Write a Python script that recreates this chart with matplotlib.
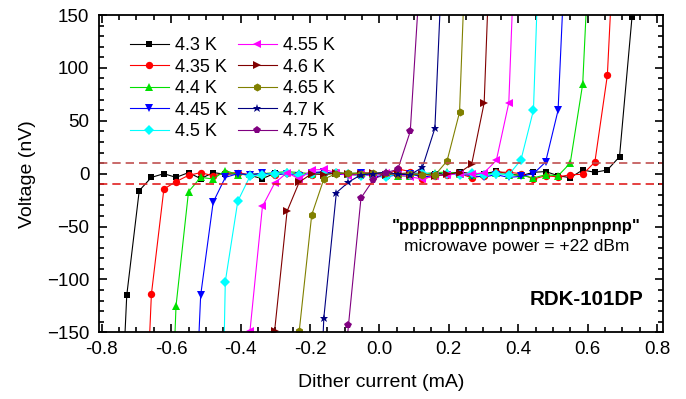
import numpy as np
import matplotlib
matplotlib.use('Agg')
import matplotlib.pyplot as plt
from matplotlib.ticker import MultipleLocator

plt.rcParams['font.family'] = ['Liberation Sans', 'DejaVu Sans']

# dither current grid (mA), shared by all temperature sweeps
current = [-0.799, -0.763, -0.728, -0.692, -0.657, -0.621, -0.586, -0.550, -0.515, -0.479,
           -0.444, -0.408, -0.373, -0.337, -0.302, -0.266, -0.231, -0.195, -0.160, -0.124,
           -0.089, -0.053, -0.018, 0.018, 0.053, 0.089, 0.124, 0.160, 0.195, 0.231,
           0.266, 0.302, 0.337, 0.373, 0.408, 0.444, 0.479, 0.515, 0.550, 0.586,
           0.621, 0.657, 0.692, 0.728, 0.763, 0.799]

N = None
# voltage (nV) per temperature, None = not measured / not shown
v_430 = [N, -364, -115, -16, -3.5, 0, -3.5, 1, -4.7, 1, -0.5, 0, -1.6, -4.7, 0.3, 0.6, -1.6, 0.5, 1.2, -0.6,
         -0.6, -1.6, -0.6, 0, 0, 0.7, 0, 0, 0, 1.6, 0, 0, 2.2, 0, -1.9, 1.3, 2, -1.9, -3.8, 3.5,
         1.3, 3.5, 16, 148, 400, N]
v_435 = [N, N, N, -381, -114, -14.5, -7.5, -1.6, 1, -2, 0.5, 1, -1, 0, -1.5, 1, -0.5, -1, 0.5, 1.5,
         -0.5, 1, 0, -2, 4.5, 2, -5, -2, -1, 0, -3.8, -2, 1.5, 1.3, 0, -5, -2, -3, -1, -0.6,
         11, 93, 326, N, N, N]
v_440 = [N, N, N, N, N, -425, -125, -17, -3.5, -5, 3, -1, -0.5, 0, 1, 2, 1, 0, -1, 0.5,
         0, 1, -0.5, -1, -2, -2.5, 0, 1, 1.5, 0, -1, 0, 0.5, -1, -1.5, -4, -1, -2, 10, 85,
         327, N, N, N, N, N]
v_445 = [N, N, N, N, N, N, N, -374, -115, -27, -3.5, 0, -1, 0.5, -1, 0, -2, 1, 2, -0.5,
         -1, 0.5, -2.5, -3, -1, 0, -3, -2, -1, 0, -2, -3, -1, -3.5, -2.5, 0, 11, 60, 316, N,
         N, N, N, N, N, N]
v_450 = [N, N, N, N, N, N, N, N, N, -692, -102, -26, -2.5, -1, 0, 1, -1.5, 0, -0.5, 1,
         0, -2, -1, -3, 0, -1, 1, -1.5, 0, -1, 0.5, -1, 0, -1, 13, 60, 393, N, N, N,
         N, N, N, N, N, N]
v_455 = [N, N, N, N, N, N, N, N, N, N, N, -400, -149, -31, -9, 1, -5, 3.5, 4, 1,
         -2, 0, -2.5, 1, -1, -3, -5, -2, -1, 0, -0.5, 1, 12.5, 67, 374, N, N, N, N, N,
         N, N, N, N, N, N]
v_460 = [N, N, N, N, N, N, N, N, N, N, N, N, N, -400, -149, -35.5, -8, 0, -1, 1,
         -0.5, 0, 1, -1, 0.5, -1, 0, -2, -0.5, 1, 9, 67, 374, N, N, N, N, N, N, N,
         N, N, N, N, N, N]
v_465 = [N, N, N, N, N, N, N, N, N, N, N, N, N, N, N, -400, -149, -39, -5, 0,
         1, -0.5, 0.5, 1, -1, 0, -1, -1.5, 12, 58, 366, N, N, N, N, N, N, N, N, N,
         N, N, N, N, N, N]
v_470 = [N, N, N, N, N, N, N, N, N, N, N, N, N, N, N, N, N, -393, -136, -18,
         -8, -1, 0, 1.5, -0.5, -1, 6, 43, 307, N, N, N, N, N, N, N, N, N, N, N,
         N, N, N, N, N, N]
v_475 = [N, N, N, N, N, N, N, N, N, N, N, N, N, N, N, N, N, N, N, -271,
         -143, -23, -6, 1, 4, 40, 225, N, N, N, N, N, N, N, N, N, N, N, N, N,
         N, N, N, N, N, N]

labels = ['4.3 K', '4.35 K', '4.4 K', '4.45 K', '4.5 K',
          '4.55 K', '4.6 K', '4.65 K', '4.7 K', '4.75 K']
series = [v_430, v_435, v_440, v_445, v_450, v_455, v_460, v_465, v_470, v_475]
colors = ['#000000', '#FF0000', '#00E000', '#0000FF', '#00FFFF',
          '#FF00FF', '#800000', '#808000', '#000080', '#800080']
markers = ['s', 'o', '^', 'v', 'D', '<', '>', 'h', '*', 'p']
msizes = [4.8, 5.3, 5.8, 5.8, 5.3, 5.8, 5.8, 5.8, 6.3, 5.8]

fig = plt.figure(figsize=(6.86, 3.99), dpi=100)
ax = fig.add_axes([0.1443, 0.167, 0.822, 0.7954])

x = np.array(current, dtype=float)
for v, lab, c, m, ms in zip(series, labels, colors, markers, msizes):
    y = np.array([np.nan if val is None else val for val in v], dtype=float)
    ok = ~np.isnan(y)
    ax.plot(x[ok], y[ok], color=c, marker=m, markersize=ms, linewidth=0.8,
            markeredgewidth=0, label=lab)

ax.axhline(10, color='#C05050', linestyle=(0, (5, 3)), linewidth=1.2)
ax.axhline(-10, color='#E02020', linestyle=(0, (5, 3)), linewidth=1.2)

ax.set_xlim(-0.808, 0.817)
ax.set_ylim(-150, 150)
ax.xaxis.set_major_locator(MultipleLocator(0.2))
ax.xaxis.set_minor_locator(MultipleLocator(0.05))
ax.yaxis.set_major_locator(MultipleLocator(50))
ax.yaxis.set_minor_locator(MultipleLocator(10))
ax.xaxis.set_major_formatter(matplotlib.ticker.FormatStrFormatter('%.1f'))
ax.tick_params(which='both', direction='in', top=True, right=True, labelsize=13.5, width=1.2)
ax.tick_params(which='major', length=6)
ax.tick_params(which='minor', length=3.5)
ax.tick_params(axis='x', which='major', pad=6)
ax.tick_params(axis='y', which='major', pad=7)
for s in ax.spines.values():
    s.set_linewidth(1.3)

ax.set_xlabel('Dither current (mA)', fontsize=14, labelpad=12)
ax.set_ylabel('Voltage (nV)', fontsize=14, labelpad=8)

ax.legend(loc='upper left', bbox_to_anchor=(0.055, 0.93), ncol=2, frameon=False,
          fontsize=13, handlelength=2.15, handletextpad=0.35, columnspacing=0.6,
          labelspacing=0.25, borderpad=0, borderaxespad=0)

ax.text(0.74, 0.335, '"ppppppppnnpnpnpnpnpnpnp"', transform=ax.transAxes,
        ha='center', va='center', fontsize=12, fontweight='bold')
ax.text(0.74, 0.27, 'microwave power = +22 dBm', transform=ax.transAxes,
        ha='center', va='center', fontsize=12.5)
ax.text(0.965, 0.105, 'RDK-101DP', transform=ax.transAxes,
        ha='right', va='center', fontsize=14.8, fontweight='bold')

fig.savefig('out.png', dpi=100)
